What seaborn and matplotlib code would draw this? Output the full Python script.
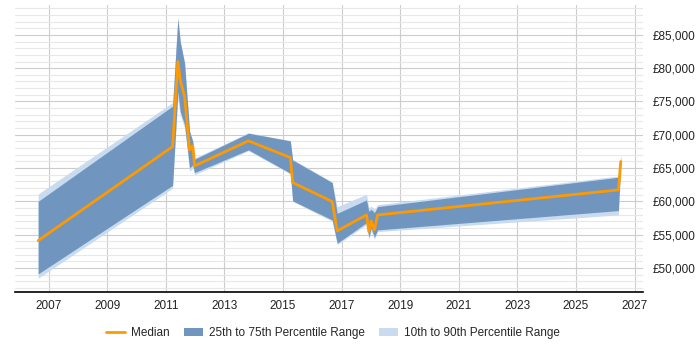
import matplotlib
matplotlib.use("Agg")
import matplotlib.pyplot as plt
import matplotlib.ticker as mticker
import seaborn as sns
import pandas as pd
import numpy as np

# Data
years = [2006.64, 2011.23, 2011.41, 2011.49, 2011.64, 2011.81, 2011.92, 2011.98,
         2013.82, 2015.25, 2015.33, 2016.68, 2016.85, 2017.85, 2017.93, 2018.01,
         2018.12, 2018.23, 2026.45, 2026.53]
p10 = [48450, 61970, 75500, 73000, 71000, 64500, 65000, 64000,
       67600, 64100, 60000, 57000, 53500, 56500, 54300, 55500,
       54300, 55460, 57960, 65500]
p25 = [49100, 62400, 76500, 73500, 71500, 65000, 65500, 64320,
       67730, 64220, 60060, 57210, 53710, 56800, 54600, 56000,
       54600, 55710, 58610, 65600]
median = [54100, 68220, 81000, 78240, 75730, 67730, 68330, 65320,
          69080, 66570, 62820, 59960, 55560, 57960, 55460, 57060,
          55710, 57960, 61720, 65970]
p75 = [60000, 74300, 87500, 84000, 80750, 70500, 69000, 66330,
       70230, 69080, 66200, 62820, 58200, 60210, 58500, 58800,
       58300, 59210, 63620, 66700]
p90 = [61100, 74830, 87600, 84100, 80800, 70600, 69100, 66500,
       70300, 69100, 66300, 62900, 59200, 61070, 59000, 59300,
       58800, 59500, 63800, 67000]

x_ticks = [2007, 2009, 2011, 2013, 2015, 2017, 2019, 2021, 2023, 2025, 2027]
y_ticks = [50000, 55000, 60000, 65000, 70000, 75000, 80000, 85000]

df = pd.DataFrame({"year": years, "p10": p10, "p25": p25, "median": median,
                   "p75": p75, "p90": p90})

sns.set_theme(style="white")
plt.rcParams['font.family'] = ['Liberation Sans', 'DejaVu Sans']

fig = plt.figure(figsize=(7, 3.5), dpi=100)
ax = fig.add_axes([0.021, 0.166, 0.898, 0.820])

c_light = "#c9dbee"
c_mid = "#7096bf"
c_med = "#ff9900"

ax.fill_between(df["year"], df["p10"], df["p90"], color=c_light, lw=0,
                label="10th to 90th Percentile Range", zorder=2)
ax.fill_between(df["year"], df["p25"], df["p75"], color=c_mid, lw=0,
                label="25th to 75th Percentile Range", zorder=3)
sns.lineplot(data=df, x="year", y="median", color=c_med, lw=2, ax=ax,
             label="Median", zorder=4)

ax.set_xlim(2005.84, 2027.3)
ax.set_ylim(46400, 89500)
ax.set_xticks(x_ticks)
ax.set_yticks(y_ticks)
ax.yaxis.set_minor_locator(mticker.MultipleLocator(1000))
ax.yaxis.set_major_formatter(mticker.FuncFormatter(lambda v, p: f"£{int(v):,}"))
ax.yaxis.tick_right()
ax.grid(which="major", axis="both", color="#cccccc", lw=0.8, zorder=0)
ax.grid(which="minor", axis="y", color="#e8e8e8", lw=0.8, zorder=0)
ax.set_axisbelow(True)
for s in ["top", "left", "right"]:
    ax.spines[s].set_visible(False)
ax.spines["bottom"].set_color("#000000")
ax.spines["bottom"].set_linewidth(1.2)
ax.tick_params(axis="both", which="both", length=0, labelsize=8.5, colors="#222222", pad=6)
ax.tick_params(axis="y", which="major", pad=7)
ax.set_xlabel("")
ax.set_ylabel("")

handles, labels = ax.get_legend_handles_labels()
order = [labels.index("Median"), labels.index("25th to 75th Percentile Range"),
         labels.index("10th to 90th Percentile Range")]
ax.legend([handles[i] for i in order], [labels[i] for i in order],
          loc="center", bbox_to_anchor=(333 / 700, 17 / 350), bbox_transform=fig.transFigure,
          ncol=3, frameon=False,
          fontsize=8.5, handlelength=1.6, columnspacing=1.2, handletextpad=0.5)

fig.savefig("out.png", dpi=100)
